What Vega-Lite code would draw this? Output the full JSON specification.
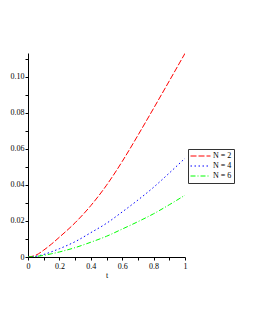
{
  "$schema": "https://vega.github.io/schema/vega-lite/v6.json",
  "autosize": "none",
  "width": 157,
  "height": 204,
  "padding": {"left": 28, "top": 53, "right": 70, "bottom": 73},
  "background": "white",
  "config": {
    "view": {"stroke": null},
    "font": "Liberation Serif",
    "axis": {
      "grid": false,
      "domainColor": "black",
      "domainWidth": 1,
      "tickColor": "black",
      "tickSize": 3,
      "labelFont": "Liberation Serif",
      "labelFontSize": 8,
      "labelColor": "black",
      "titleFont": "Liberation Serif",
      "titleFontSize": 8,
      "titleFontWeight": "normal",
      "titleColor": "black"
    }
  },
  "data": {
    "values": [
      {"t": 0, "v": 0, "N": "N = 2"},
      {"t": 0.05, "v": 0.001, "N": "N = 2"},
      {"t": 0.1, "v": 0.0038, "N": "N = 2"},
      {"t": 0.15, "v": 0.0072, "N": "N = 2"},
      {"t": 0.2, "v": 0.011, "N": "N = 2"},
      {"t": 0.3, "v": 0.019, "N": "N = 2"},
      {"t": 0.4, "v": 0.0285, "N": "N = 2"},
      {"t": 0.5, "v": 0.0398, "N": "N = 2"},
      {"t": 0.6, "v": 0.053, "N": "N = 2"},
      {"t": 0.7, "v": 0.0675, "N": "N = 2"},
      {"t": 0.8, "v": 0.0825, "N": "N = 2"},
      {"t": 0.9, "v": 0.0977, "N": "N = 2"},
      {"t": 1.0, "v": 0.113, "N": "N = 2"},
      {"t": 0, "v": 0, "N": "N = 4"},
      {"t": 0.05, "v": 0.0004, "N": "N = 4"},
      {"t": 0.1, "v": 0.0014, "N": "N = 4"},
      {"t": 0.15, "v": 0.0029, "N": "N = 4"},
      {"t": 0.2, "v": 0.0046, "N": "N = 4"},
      {"t": 0.3, "v": 0.0085, "N": "N = 4"},
      {"t": 0.4, "v": 0.0135, "N": "N = 4"},
      {"t": 0.5, "v": 0.0187, "N": "N = 4"},
      {"t": 0.6, "v": 0.025, "N": "N = 4"},
      {"t": 0.7, "v": 0.0316, "N": "N = 4"},
      {"t": 0.8, "v": 0.0387, "N": "N = 4"},
      {"t": 0.9, "v": 0.0466, "N": "N = 4"},
      {"t": 1.0, "v": 0.0548, "N": "N = 4"},
      {"t": 0, "v": 0, "N": "N = 6"},
      {"t": 0.05, "v": 0.0003, "N": "N = 6"},
      {"t": 0.1, "v": 0.0009, "N": "N = 6"},
      {"t": 0.15, "v": 0.0018, "N": "N = 6"},
      {"t": 0.2, "v": 0.0028, "N": "N = 6"},
      {"t": 0.3, "v": 0.0052, "N": "N = 6"},
      {"t": 0.4, "v": 0.0082, "N": "N = 6"},
      {"t": 0.5, "v": 0.0115, "N": "N = 6"},
      {"t": 0.6, "v": 0.0155, "N": "N = 6"},
      {"t": 0.7, "v": 0.0196, "N": "N = 6"},
      {"t": 0.8, "v": 0.024, "N": "N = 6"},
      {"t": 0.9, "v": 0.029, "N": "N = 6"},
      {"t": 1.0, "v": 0.0343, "N": "N = 6"}
    ]
  },
  "mark": {"type": "line", "strokeWidth": 1, "interpolate": "monotone", "clip": true},
  "encoding": {
    "x": {
      "field": "t",
      "type": "quantitative",
      "scale": {"domain": [0, 1], "nice": false},
      "axis": {
        "title": "t",
        "values": [0, 0.1, 0.2, 0.3, 0.4, 0.5, 0.6, 0.7, 0.8, 0.9, 1],
        "labelExpr": "datum.value == 0 ? '0' : datum.value == 1 ? '1' : (round(datum.value * 10) % 2 == 0 ? format(datum.value, '.1f') : '')",
        "labelPadding": 2,
        "titlePadding": 1,
        "labelFlush": false
      }
    },
    "y": {
      "field": "v",
      "type": "quantitative",
      "scale": {"domain": [0, 0.1132], "nice": false, "zero": true},
      "axis": {
        "title": null,
        "values": [0, 0.01, 0.02, 0.03, 0.04, 0.05, 0.06, 0.07, 0.08, 0.09, 0.1, 0.11],
        "labelExpr": "datum.value == 0 ? '0' : (round(datum.value * 100) % 2 == 0 ? format(datum.value, '.2f') : '')",
        "labelPadding": 1,
        "labelFlush": false
      }
    },
    "color": {
      "field": "N",
      "type": "nominal",
      "scale": {"domain": ["N = 2", "N = 4", "N = 6"], "range": ["#ff0000", "#0000ff", "#00ff00"]},
      "legend": {
        "title": null,
        "orient": "none",
        "legendX": 160,
        "legendY": 96,
        "symbolType": "stroke",
        "symbolSize": 400,
        "symbolStrokeWidth": 1,
        "symbolOpacity": 1,
        "clipHeight": 10,
        "labelFont": "Liberation Serif",
        "labelFontSize": 8,
        "labelColor": "black",
        "labelOffset": 2,
        "rowPadding": 0,
        "padding": 2,
        "strokeColor": "#333333",
        "fillColor": "white",
        "encode": {
          "symbols": {"update": {"strokeDash": {"scale": "strokeDash", "field": "value"}}}
        }
      }
    },
    "strokeDash": {
      "field": "N",
      "type": "nominal",
      "scale": {"domain": ["N = 2", "N = 4", "N = 6"], "range": [[6, 2], [1.5, 2.5], [5, 2, 1, 2]]},
      "legend": null
    }
  }
}
